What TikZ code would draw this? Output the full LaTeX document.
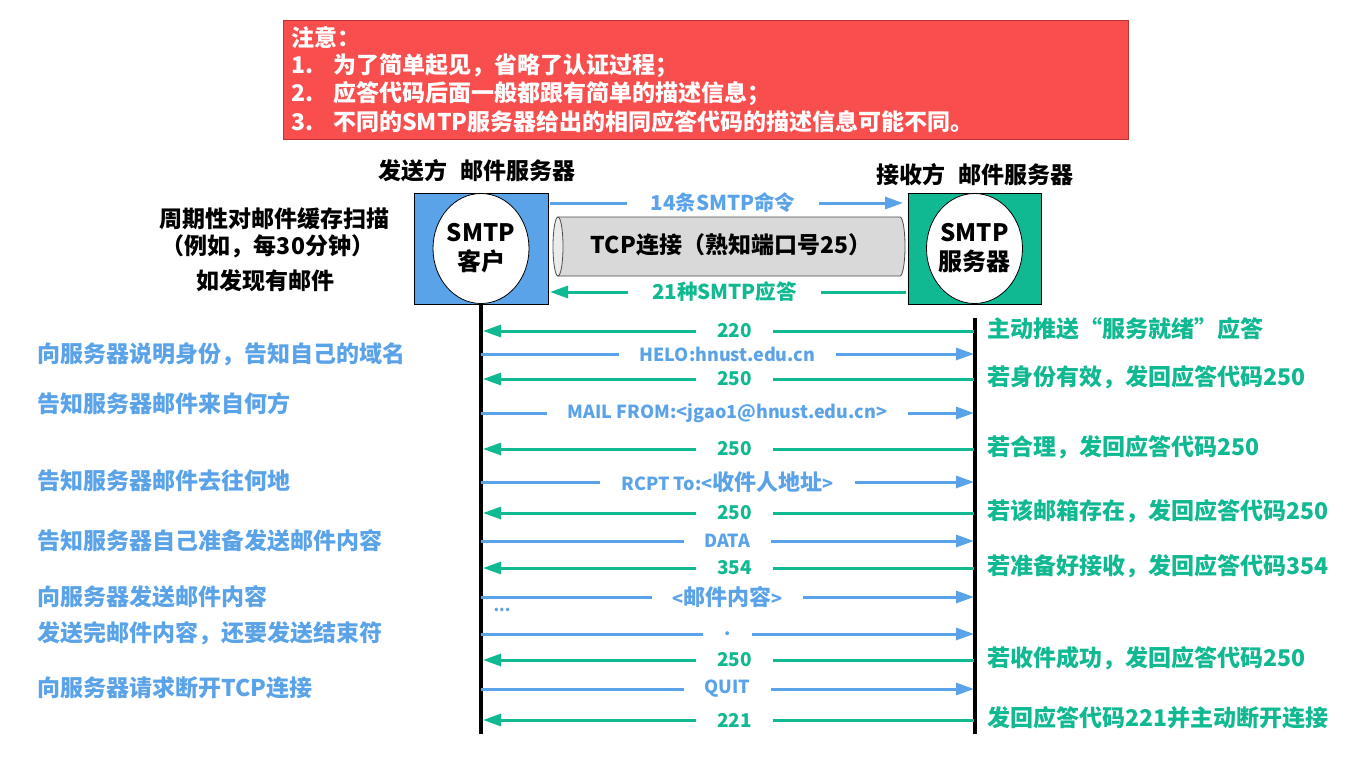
\documentclass[tikz,border=0pt]{standalone}
\usepackage{fontspec}
\setmainfont{Noto Sans CJK SC}
\usetikzlibrary{arrows.meta}
\definecolor{cblue}{RGB}{91,163,232}
\definecolor{cgreen}{RGB}{16,185,145}
\definecolor{cred}{RGB}{248,78,78}
\definecolor{credb}{RGB}{190,50,50}
\definecolor{cgray}{RGB}{217,217,217}
\definecolor{cgrayl}{RGB}{235,235,235}
\newcommand{\bigcj}[1]{{\fontsize{22}{24}\selectfont #1}}
\begin{document}
\begin{tikzpicture}[x=1pt,y=-1pt,
  txt/.style={font=\fontsize{23}{27}\selectfont\bfseries, inner sep=0pt},
  lbl/.style={font=\fontsize{19}{22}\selectfont\bfseries, fill=white, inner xsep=21pt, inner ysep=1pt},
  blbl/.style={lbl, text=cblue, font=\fontsize{18}{21}\selectfont\bfseries},
  glbl/.style={lbl, text=cgreen},
  garrow/.style={draw=cgreen, line width=3pt, -{Triangle[length=18pt,width=12pt]}},
  barrow/.style={draw=cblue, line width=3pt, -{Triangle[length=18pt,width=12pt]}},
  lifeline/.style={line width=3.5pt, black},
  lefttxt/.style={txt, text=cblue, anchor=west},
  righttxt/.style={txt, text=cgreen, anchor=west}]
\useasboundingbox (0,0) rectangle (1358,758);
\fill[white] (0,0) rectangle (1358,758);

% note box
\node[draw=credb, fill=cred, line width=1pt, minimum width=845pt, minimum height=119pt, anchor=north west, inner sep=0pt] (note) at (283,20) {};
\node[txt, text=white, anchor=west] (n0) at (291,38) {注意：};
\node[txt, text=white, anchor=west] (n1) at (291,66) {\makebox[42pt][l]{1.}为了简单起见，省略了认证过程；};
\node[txt, text=white, anchor=west] (n2) at (291,94) {\makebox[42pt][l]{2.}应答代码后面一般都跟有简单的描述信息；};
\node[txt, text=white, anchor=west] (n3) at (291,122) {\makebox[42pt][l]{3.}不同的SMTP服务器给出的相同应答代码的描述信息可能不同。};

% headers
\node[txt] (hs) at (477,171) {发送方\hspace{14pt}邮件服务器};
\node[txt] (hr) at (975,175) {接收方\hspace{14pt}邮件服务器};

% left black text
\node[txt] (s1) at (274,219) {周期性对邮件缓存扫描};
\node[txt] (s2) at (268,246) {（例如，每30分钟）};
\node[txt] (s3) at (265,281) {如发现有邮件};

% server boxes
\node[draw=black, fill=cblue, line width=0.8pt, minimum width=134pt, minimum height=111pt, inner sep=0pt] (cbox) at (481,248.5) {};
\node[draw=black, fill=cgreen, line width=0.8pt, minimum width=133pt, minimum height=111pt, inner sep=0pt] (sbox) at (974.5,248.5) {};
\draw[fill=white, line width=0.8pt] (cbox.center) ellipse [x radius=48pt, y radius=55pt];
\draw[fill=white, line width=0.8pt] (sbox.center) ellipse [x radius=48pt, y radius=55pt];
\node[txt, align=center, font=\fontsize{24}{29}\selectfont\bfseries] (ctext) at (cbox.center) {SMTP\\客户};
\node[txt, align=center, font=\fontsize{24}{29}\selectfont\bfseries] (stext) at (sbox.center) {SMTP\\服务器};

% cylinder
\draw[fill=cgray, draw=black!70, line width=0.8pt] (558,217) -- (900,217) arc[start angle=-90, end angle=90, x radius=5pt, y radius=-29.5pt] -- (558,276) -- cycle;
\draw[fill=cgrayl, draw=black!70, line width=0.8pt] (558,246.5) ellipse [x radius=5pt, y radius=29.5pt];
\node[txt] (tcp) at (731,245) {TCP连接（熟知端口号25）};

% top / bottom arrows
\coordinate (ct) at (550,203);
\coordinate (st) at (903,203);
\draw[barrow] (ct) -- (st) node[pos=0.49, lbl, text=cblue, font=\fontsize{20.5}{24}\selectfont\bfseries, inner xsep=24pt] (cmd) {14条SMTP命令};
\coordinate (sb) at (906,292);
\coordinate (cb) at (550,292);
\draw[garrow] (sb) -- (cb) node[pos=0.51, glbl, font=\fontsize{20.5}{24}\selectfont\bfseries, inner xsep=24pt] (rsp) {21种SMTP应答};

% lifelines
\coordinate (lt) at (481,304);
\coordinate (lb) at (481,734);
\coordinate (rt) at (975,318);
\coordinate (rb) at (975,734);
\draw[lifeline] (lt) -- (lb);
\draw[lifeline] (rt) -- (rb);

% green (reply) rows
\foreach \y/\c/\t [count=\i] in {331/220/{主动推送“服务就绪”应答}, 379/250/{若身份有效，发回应答代码250}, 449/250/{若合理，发回应答代码250}, 513/250/{若该邮箱存在，发回应答代码250}, 568/354/{若准备好接收，发回应答代码354}, 660/250/{若收件成功，发回应答代码250}, 720/221/{发回应答代码221并主动断开连接}}{
  \coordinate (gr\i) at (974,\y);
  \coordinate (gl\i) at (483,\y);
  \draw[garrow] (gr\i) -- (gl\i) node[pos=0.488, glbl] (gc\i) {\c};
  \node[righttxt] (gt\i) at (987,\y-2) {\t};
}

% blue (command) rows
\foreach \y/\c/\t/\ty [count=\i] in {354/{HELO:hnust.edu.cn}/{向服务器说明身份，告知自己的域名}/354, 413/{MAIL FROM:<jgao1@hnust.edu.cn>}/{告知服务器邮件来自何方}/404, 482/{RCPT To:<\bigcj{收件人地址}>}/{告知服务器邮件去往何地}/481, 541/{DATA}/{告知服务器自己准备发送邮件内容}/541, 597/{<\bigcj{邮件内容}>}/{向服务器发送邮件内容}/597, 634/{.}/{发送完邮件内容，还要发送结束符}/633, 689/{QUIT}/{向服务器请求断开TCP连接}/688}{
  \coordinate (bl\i) at (481,\y);
  \coordinate (br\i) at (974,\y);
  \draw[barrow] (bl\i) -- (br\i) node[midway, blbl] (bc\i) {\c};
  \node[lefttxt] (bt\i) at (37,\ty) {\t};
}
\node[txt, text=cblue, font=\fontsize{16}{18}\selectfont\bfseries] (dots) at (502,610) {...};
\end{tikzpicture}
\end{document}
